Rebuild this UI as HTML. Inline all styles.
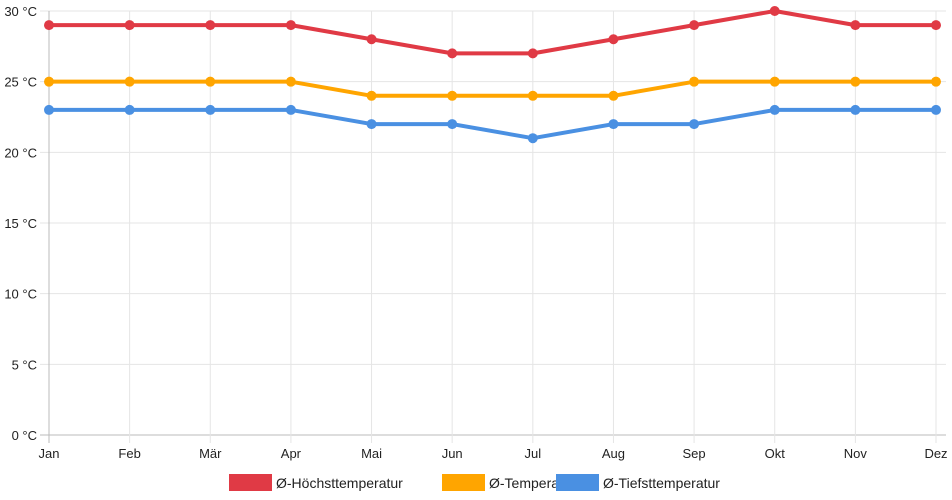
<!DOCTYPE html>
<html><head><meta charset="utf-8"><style>
html,body{margin:0;padding:0;background:#fff;}
svg{display:block;font-family:"Liberation Sans",sans-serif;}
</style></head><body>
<svg id="chart" width="952" height="500"></svg>
<script>
const categories=["Jan","Feb","Mär","Apr","Mai","Jun","Jul","Aug","Sep","Okt","Nov","Dez"];
const highTemps=[29,29,29,29,28,27,27,28,29,30,29,29];
const avgTemps=[25,25,25,25,24,24,24,24,25,25,25,25];
const lowTemps=[23,23,23,23,22,22,21,22,22,23,23,23];
const yTicks=[0,5,10,15,20,25,30];
const seriesNames=["Ø-Höchsttemperatur","Ø-Temperatur","Ø-Tiefsttemperatur"];
const NS="http://www.w3.org/2000/svg";
const svg=document.getElementById('chart');
const x0=49,x1=936,y0=435,y1=11;
const xs=i=>x0+(x1-x0)*i/(categories.length-1);
const ys=v=>y0-(y0-y1)*v/30;
function mk(t,a){const e=document.createElementNS(NS,t);for(const k in a)e.setAttribute(k,a[k]);svg.appendChild(e);return e;}
yTicks.forEach(v=>{
  const l=mk('line',{x1:40,x2:x1+10,y1:ys(v),y2:ys(v),stroke:v===0?'#bbb':'#e5e5e5','stroke-width':1});
  
  
  const t=mk('text',{x:37,y:ys(v)+5,'text-anchor':'end','font-size':13,fill:'#222'});
  t.textContent=v+' °C';
  
  
});
categories.forEach((c,i)=>{
  const l=mk('line',{x1:xs(i),x2:xs(i),y1:y1,y2:y0+8,stroke:i===0?'#bbb':'#e5e5e5','stroke-width':1});
  
  
  const t=mk('text',{x:xs(i),y:458,'text-anchor':'middle','font-size':13,fill:'#222'});
  t.textContent=c;
  
  
});
const colors=["#e03a45","#ffa500","#4a90e2"];
[highTemps,avgTemps,lowTemps].forEach((d,s)=>{
  const p=mk('polyline',{points:d.map((v,i)=>xs(i)+','+ys(v)).join(' '),fill:'none',stroke:colors[s],'stroke-width':4,'stroke-linejoin':'round'});
  
  
  d.forEach((v,i)=>{
    const c=mk('circle',{cx:xs(i),cy:ys(v),r:5,fill:colors[s]});
    
    
  });
});
const lx=[229,442,556];
seriesNames.forEach((n,s)=>{
  const r=mk('rect',{x:lx[s],y:474,width:43,height:17,fill:colors[s]});
  
  
  const t=mk('text',{x:lx[s]+47,y:488,'font-size':14,fill:'#222'});
  t.textContent=n;
  
  
});
</script>
</body></html>
